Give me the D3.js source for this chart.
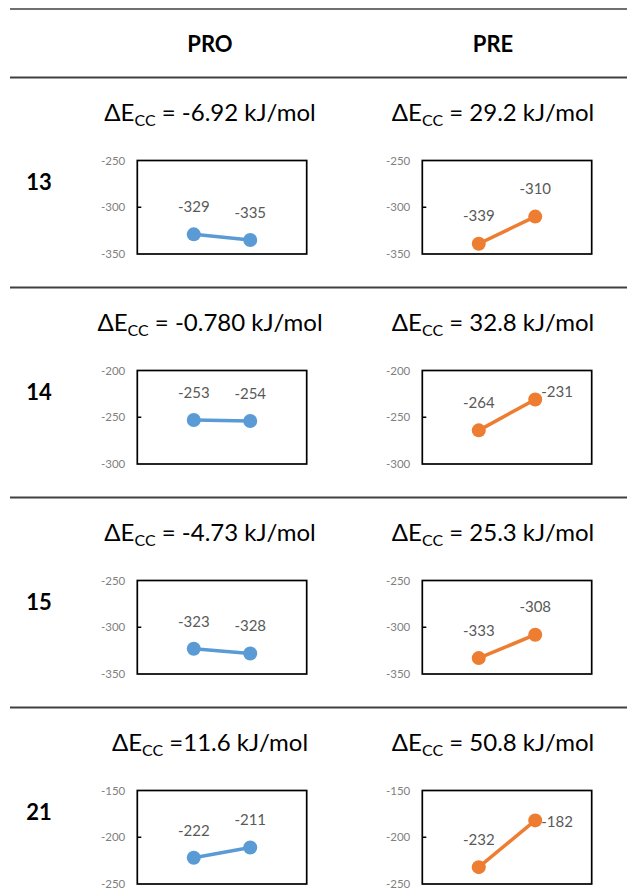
<!DOCTYPE html>
<html>
<head>
<meta charset="utf-8">
<script src="https://cdn.jsdelivr.net/npm/d3@7"></script>
<style>
  body { margin: 0; background: #fff; }
  text { font-family: Lato, "Open Sans", sans-serif; }
</style>
</head>
<body>
<div id="chart"></div>
<script>
const rowIds = ['13', '14', '15', '21'];
const columns = ['PRO', 'PRE'];
const categories = ['a', 'b'];

const proValues = [[-329, -335], [-253, -254], [-323, -328], [-222, -211]];
const preValues = [[-339, -310], [-264, -231], [-333, -308], [-232, -182]];

const proDelta = ['= -6.92 kJ/mol', '= -0.780 kJ/mol', '= -4.73 kJ/mol', '=11.6 kJ/mol'];
const preDelta = ['= 29.2 kJ/mol', '= 32.8 kJ/mol', '= 25.3 kJ/mol', '= 50.8 kJ/mol'];

const yDomains = [[-350, -250], [-300, -200], [-350, -250], [-250, -150]];
const yTicks = [[-350, -300, -250], [-300, -250, -200], [-350, -300, -250], [-250, -200, -150]];

// where excel put the data labels
const proLabelPos = [['top', 'top'], ['top', 'top'], ['top', 'top'], ['top', 'top']];
const preLabelPos = [['top', 'top'], ['top', 'upright'], ['top', 'top'], ['top', 'right']];

const colors = { PRO: '#5b9bd5', PRE: '#ed7d31' };

const width = 627;
const height = 889;

const svg = d3.select('#chart')
    .append('svg')
    .attr('width', width)
    .attr('height', height);

// table rules
const headerY = 77.5;
const rowH = 210;
const ruleColor = '#404040';

svg.append('line')
    .attr('x1', 10).attr('x2', width)
    .attr('y1', 9).attr('y2', 9)
    .attr('stroke', ruleColor)
    .attr('stroke-width', 1.5);

rowIds.forEach((r, i) => {
  svg.append('line')
      .attr('x1', 10).attr('x2', width)
      .attr('y1', headerY + i * rowH).attr('y2', headerY + i * rowH)
      .attr('stroke', ruleColor)
      .attr('stroke-width', 2);
});

const colCenter = { PRO: 210, PRE: 493 };
const boxLeft = { PRO: 137.3, PRE: 422.3 };
const boxW = 169.4;
const boxH = 93.5;

columns.forEach(c => {
  svg.append('text')
      .attr('x', colCenter[c])
      .attr('y', 52)
      .attr('text-anchor', 'middle')
      .style('font-size', '22px')
      .style('font-weight', 'bold')
      .text(c);
});

rowIds.forEach((r, i) => {
  const rowTop = headerY + i * rowH;

  svg.append('text')
      .attr('x', 39)
      .attr('y', rowTop + 112)
      .attr('text-anchor', 'middle')
      .style('font-size', '22px')
      .style('font-weight', 'bold')
      .text(r);

  columns.forEach(c => {
    const values = c === 'PRO' ? proValues[i] : preValues[i];
    const delta = c === 'PRO' ? proDelta[i] : preDelta[i];
    const labelPos = c === 'PRO' ? proLabelPos[i] : preLabelPos[i];
    const color = colors[c];

    // title
    const title = svg.append('text')
        .attr('x', colCenter[c])
        .attr('y', rowTop + 43)
        .attr('text-anchor', 'middle')
        .style('font-size', '24px')
        .attr('fill', '#000');
    title.append('tspan').text('\u0394E');
    title.append('tspan')
        .attr('dy', 5)
        .style('font-size', '16px')
        .text('CC');
    title.append('tspan')
        .attr('dy', -5)
        .text(' ' + delta);

    const top = rowTop + 83;
    const x = d3.scalePoint()
        .domain(categories)
        .range([boxLeft[c], boxLeft[c] + boxW])
        .padding(1);
    const y = d3.scaleLinear()
        .domain(yDomains[i])
        .range([top + boxH, top]);

    const g = svg.append('g');

    // y axis labels + small inner tick
    const axis = d3.axisLeft(y)
        .tickValues(yTicks[i])
        .tickFormat(d => String(d))
        .tickSize(0)
        .tickPadding(12);
    const ax = g.append('g')
        .attr('transform', 'translate(' + boxLeft[c] + ',0)')
        .call(axis);
    ax.select('.domain').remove();
    ax.selectAll('text')
        .attr('fill', '#7f7f7f')
        .style('font-size', '11.5px')
        .style('font-family', 'Lato, sans-serif');

    g.append('line')
        .attr('x1', boxLeft[c]).attr('x2', boxLeft[c] + 4)
        .attr('y1', y(yTicks[i][1])).attr('y2', y(yTicks[i][1]))
        .attr('stroke', '#000')
        .attr('stroke-width', 1.5);

    g.append('rect')
        .attr('x', boxLeft[c])
        .attr('y', top)
        .attr('width', boxW)
        .attr('height', boxH)
        .attr('fill', 'none')
        .attr('stroke', '#000')
        .attr('stroke-width', 1.7);

    const pts = categories.map((k, j) => ({ k: k, v: values[j], pos: labelPos[j] }));

    g.append('path')
        .datum(pts)
        .attr('fill', 'none')
        .attr('stroke', color)
        .attr('stroke-width', 3.5)
        .attr('d', d3.line().x(d => x(d.k)).y(d => y(d.v)));

    g.selectAll('circle')
        .data(pts)
        .join('circle')
        .attr('cx', d => x(d.k))
        .attr('cy', d => y(d.v))
        .attr('r', 7)
        .attr('fill', color);

    g.selectAll('text.lbl')
        .data(pts)
        .join('text')
        .attr('class', 'lbl')
        .attr('x', d => d.pos === 'top' ? x(d.k) : x(d.k) + 6)
        .attr('y', d => {
          if (d.pos === 'top') return y(d.v) - 27.5;
          if (d.pos === 'upright') return y(d.v) - 8;
          return y(d.v) + 1;
        })
        .attr('dy', '0.35em')
        .attr('text-anchor', d => d.pos === 'top' ? 'middle' : 'start')
        .attr('fill', '#595959')
        .style('font-size', '15px')
        .text(d => d.v);
  });
});
</script>
</body>
</html>
